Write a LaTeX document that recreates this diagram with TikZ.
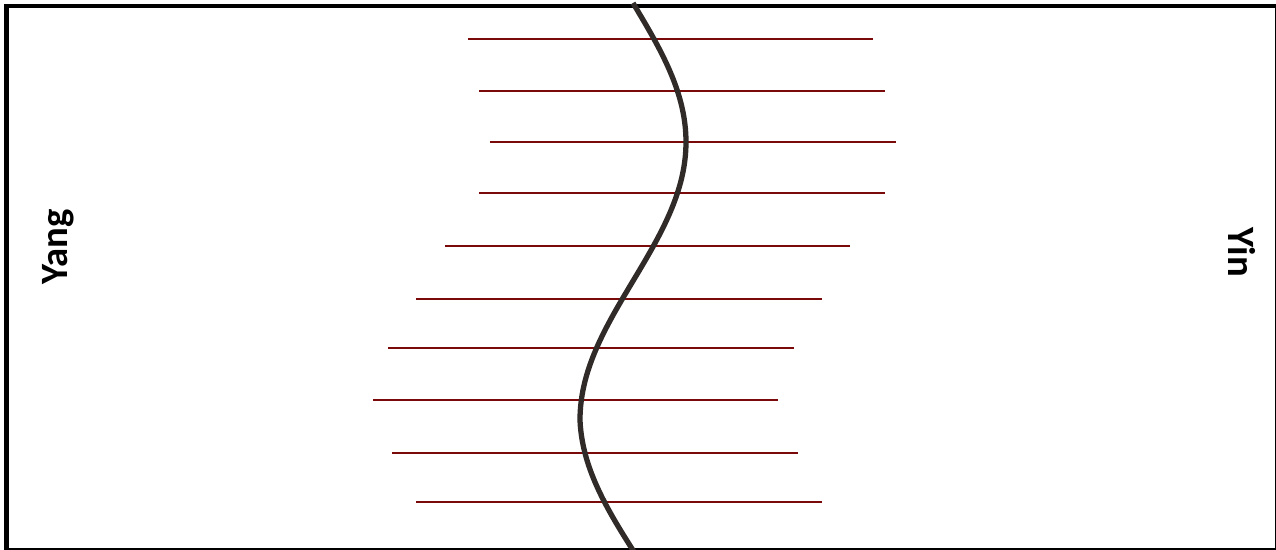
\documentclass[tikz,border=0pt]{standalone}
\usepackage{fontspec}
\setsansfont{Carlito}
\definecolor{strand}{HTML}{7A0A0A}
\definecolor{wave}{HTML}{302A28}
\tikzset{
  rung/.style={strand,line width=1.13pt},
  side/.style={font=\sffamily\bfseries\fontsize{22}{24}\selectfont,inner sep=0pt}
}
\begin{document}
\begin{tikzpicture}[x=0.02cm,y=-0.02cm]
    \useasboundingbox (0,0) rectangle (1276,549);
    \clip (0,0) rectangle (1276,549);
    % frame
    \draw[line width=2.55pt] (6.5,6) rectangle (1277.2,550.3);
    % horizontal rungs: y, left end, right end
    \foreach \y/\xa/\xb in {39/468/873, 91/479/885, 142/490/896, 193/479/885, 246/445/850,
                            299/416/822, 348/388/794, 400/373/778, 453/392/798, 502/416/822}
        \draw[rung] (\xa,\y) -- (\xb,\y);
    % the wave
    \draw[wave,line width=3pt,smooth,samples=80,domain=3:552]
        plot ({633+53*cos(0.6475*(\x-142))+(\x>420)*(\x-420)*0.04},\x);
    % labels
    \node[side,rotate=90] (yang) at (58,247) {Yang};
    \node[side,rotate=-90] (yin) at (1242,252) {Yin};
\end{tikzpicture}
\end{document}
